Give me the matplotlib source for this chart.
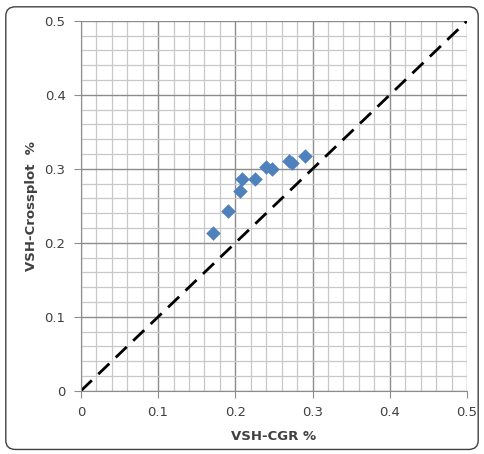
import matplotlib
matplotlib.use('Agg')
import numpy as np
import matplotlib.pyplot as plt
from matplotlib.patches import FancyBboxPatch

# data
vsh_cgr = [0.171, 0.191, 0.206, 0.209, 0.226, 0.240, 0.247, 0.270, 0.274, 0.290]
vsh_crossplot = [0.213, 0.243, 0.270, 0.286, 0.287, 0.303, 0.300, 0.311, 0.308, 0.318]
one_to_one = [0.0, 0.5]
major_ticks = [0, 0.1, 0.2, 0.3, 0.4, 0.5]
tick_labels = ['0', '0.1', '0.2', '0.3', '0.4', '0.5']

fig = plt.figure(figsize=(4.84, 4.54), dpi=100)
border = FancyBboxPatch((0.012, 0.01), 0.976, 0.975, boxstyle='round,pad=0,rounding_size=0.02',
                        transform=fig.transFigure, facecolor='none', edgecolor='#404040', lw=1.0)
fig.patches.append(border)

ax = fig.add_axes([0.167, 0.139, 0.798, 0.815])
ax.patch.set_alpha(0)
ax.set_xlim(0, 0.5)
ax.set_ylim(0, 0.5)

ax.set_xticks(major_ticks)
ax.set_xticklabels(tick_labels)
ax.set_yticks(major_ticks)
ax.set_yticklabels(tick_labels)
ax.set_xticks(np.arange(0, 0.501, 0.02), minor=True)
ax.set_yticks(np.arange(0, 0.501, 0.02), minor=True)

ax.grid(which='minor', color='#c8c8c8', lw=0.9)
ax.grid(which='major', color='#8c8c8c', lw=1.0)
ax.set_axisbelow(True)

for side in ['top', 'right']:
    ax.spines[side].set_visible(False)
for side in ['left', 'bottom']:
    ax.spines[side].set_color('#8c8c8c')

ax.tick_params(which='major', direction='out', length=5, color='#8c8c8c', labelsize=9.5,
               labelcolor='#404040', pad=6)
ax.tick_params(which='minor', length=0)

ax.plot(one_to_one, one_to_one, color='black', lw=2, dashes=(5.5, 3.2))
ax.scatter(vsh_cgr, vsh_crossplot, marker='D', s=55, color='#4f81bd', zorder=3, linewidths=0)

ax.set_xlabel('VSH-CGR %', fontsize=9.5, fontweight='bold', color='#404040', labelpad=8)
ax.set_ylabel('VSH-Crossplot  %', fontsize=9.5, fontweight='bold', color='#404040', labelpad=5)

fig.savefig('out.png', dpi=100)
